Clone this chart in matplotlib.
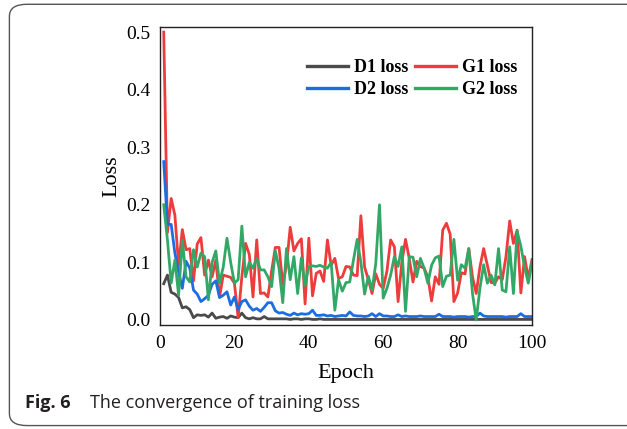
import numpy as np
import matplotlib
matplotlib.use("Agg")
import matplotlib.pyplot as plt
from matplotlib.patches import FancyBboxPatch
from matplotlib.lines import Line2D

# per-epoch training losses of the two GAN pairs
epochs = np.arange(1, 101)

d1_loss = [0.063, 0.078, 0.048, 0.045, 0.039, 0.021, 0.023, 0.018, 0.004, 0.009,
           0.008, 0.009, 0.005, 0.012, 0.003, 0.005, 0.006, 0.003, 0.007, 0.005,
           0.004, 0.012, 0.004, 0.002, 0.004, 0.002, 0.002, 0.006, 0.002, 0.002,
           0.002, 0.002, 0.002, 0.002, 0.001, 0.002, 0.002, 0.001, 0.002, 0.002,
           0.001, 0.001, 0.002, 0.001, 0.001, 0.001, 0.001, 0.001, 0.001, 0.001,
           0.001, 0.001, 0.001, 0.001, 0.001, 0.001, 0.001, 0.001, 0.001, 0.001,
           0.001, 0.001, 0.001, 0.001, 0.001, 0.001, 0.001, 0.001, 0.001, 0.001,
           0.001, 0.001, 0.001, 0.001, 0.001, 0.001, 0.001, 0.001, 0.001, 0.001,
           0.001, 0.001, 0.001, 0.001, 0.001, 0.001, 0.001, 0.001, 0.001, 0.001,
           0.001, 0.001, 0.001, 0.001, 0.001, 0.001, 0.001, 0.001, 0.001, 0.001]

g1_loss = [0.500, 0.152, 0.211, 0.182, 0.095, 0.157, 0.122, 0.124, 0.068, 0.132,
           0.143, 0.078, 0.104, 0.075, 0.104, 0.040, 0.078, 0.076, 0.074, 0.064,
           0.004, 0.075, 0.133, 0.114, 0.040, 0.139, 0.046, 0.047, 0.040, 0.085,
           0.126, 0.126, 0.062, 0.095, 0.161, 0.120, 0.133, 0.141, 0.028, 0.142,
           0.042, 0.081, 0.085, 0.067, 0.139, 0.095, 0.107, 0.072, 0.075, 0.093,
           0.092, 0.078, 0.077, 0.181, 0.092, 0.070, 0.046, 0.080, 0.062, 0.055,
           0.085, 0.139, 0.127, 0.032, 0.100, 0.140, 0.107, 0.066, 0.102, 0.093,
           0.090, 0.075, 0.033, 0.075, 0.062, 0.156, 0.168, 0.149, 0.032, 0.047,
           0.082, 0.080, 0.124, 0.075, 0.046, 0.092, 0.124, 0.095, 0.065, 0.064,
           0.075, 0.070, 0.110, 0.172, 0.133, 0.156, 0.047, 0.110, 0.072, 0.105]

d2_loss = [0.275, 0.166, 0.166, 0.116, 0.083, 0.055, 0.102, 0.090, 0.052, 0.045,
           0.032, 0.037, 0.043, 0.062, 0.068, 0.039, 0.043, 0.049, 0.026, 0.040,
           0.018, 0.032, 0.035, 0.024, 0.017, 0.020, 0.015, 0.022, 0.030, 0.030,
           0.016, 0.012, 0.013, 0.010, 0.008, 0.012, 0.009, 0.011, 0.010, 0.011,
           0.017, 0.008, 0.008, 0.009, 0.007, 0.008, 0.006, 0.007, 0.008, 0.007,
           0.014, 0.008, 0.007, 0.007, 0.006, 0.007, 0.011, 0.006, 0.011, 0.007,
           0.007, 0.006, 0.006, 0.009, 0.006, 0.007, 0.006, 0.006, 0.006, 0.007,
           0.006, 0.006, 0.006, 0.006, 0.010, 0.006, 0.006, 0.006, 0.005, 0.006,
           0.006, 0.006, 0.005, 0.006, 0.006, 0.012, 0.007, 0.006, 0.006, 0.006,
           0.006, 0.006, 0.005, 0.006, 0.006, 0.006, 0.011, 0.006, 0.006, 0.006]

g2_loss = [0.200, 0.139, 0.064, 0.104, 0.043, 0.139, 0.075, 0.066, 0.122, 0.092,
           0.116, 0.110, 0.035, 0.100, 0.120, 0.064, 0.092, 0.142, 0.100, 0.064,
           0.070, 0.163, 0.075, 0.100, 0.090, 0.107, 0.087, 0.087, 0.075, 0.058,
           0.120, 0.090, 0.030, 0.124, 0.070, 0.110, 0.046, 0.108, 0.060, 0.093,
           0.094, 0.093, 0.095, 0.092, 0.090, 0.100, 0.017, 0.070, 0.050, 0.065,
           0.066, 0.104, 0.140, 0.100, 0.045, 0.076, 0.052, 0.098, 0.200, 0.038,
           0.055, 0.078, 0.110, 0.093, 0.127, 0.015, 0.110, 0.109, 0.075, 0.107,
           0.090, 0.064, 0.095, 0.108, 0.111, 0.058, 0.076, 0.078, 0.140, 0.069,
           0.096, 0.090, 0.124, 0.046, 0.000, 0.055, 0.096, 0.064, 0.078, 0.061,
           0.124, 0.052, 0.049, 0.127, 0.046, 0.154, 0.128, 0.092, 0.064, 0.100]

C_D1, C_G1, C_D2, C_G2 = "#4a4a4a", "#ee3b3b", "#1c6ee0", "#33a866"

plt.rcParams["font.family"] = "Liberation Serif"

fig = plt.figure(figsize=(6.27, 4.29), dpi=100)

# rounded figure frame, open on the right
frame = FancyBboxPatch((0.015, 0.008), 1.2, 0.982, transform=fig.transFigure,
                       boxstyle="round,pad=0,rounding_size=0.028",
                       fc="none", ec="#555555", lw=1.0)
fig.patches.append(frame)

ax = fig.add_axes([0.2552, 0.2424, 0.5933, 0.6946])
lw = 2.0
ax.plot(epochs, d1_loss, color=C_D1, lw=lw)
ax.plot(epochs, g1_loss, color=C_G1, lw=lw)
ax.plot(epochs, d2_loss, color=C_D2, lw=lw)
ax.plot(epochs, g2_loss, color=C_G2, lw=lw)

ax.set_xlim(0, 100)
ax.set_ylim(-0.0087, 0.5087)
ax.set_xticks([0, 20, 40, 60, 80, 100])
ax.set_yticks([0.0, 0.1, 0.2, 0.3, 0.4, 0.5])
ax.set_yticklabels(["0.0", "0.1", "0.2", "0.3", "0.4", "0.5"])
ax.tick_params(length=0, labelsize=14, pad=7)
for s in ax.spines.values():
    s.set_linewidth(1.0)
    s.set_color("#222222")

ax.set_xlabel("Epoch", fontsize=16, labelpad=9)
ax.set_ylabel("Loss", fontsize=16, labelpad=3)

handles = [Line2D([], [], color=C_D1, lw=2.4), Line2D([], [], color=C_D2, lw=2.4),
           Line2D([], [], color=C_G1, lw=2.4), Line2D([], [], color=C_G2, lw=2.4)]
labels = ["D1 loss", "D2 loss", "G1 loss", "G2 loss"]
ax.legend(handles, labels, ncol=2, loc="upper left", bbox_to_anchor=(0.395, 0.893),
          frameon=False, prop={"weight": "bold", "size": 13},
          handlelength=2.3, handletextpad=0.3, columnspacing=0.35,
          labelspacing=0.3, borderpad=0, borderaxespad=0)

fig.text(0.04, 0.06, "Fig. 6", fontsize=13, fontweight="bold",
         family="Open Sans", va="center", color="#231f20")
fig.text(0.1435, 0.06, "The convergence of training loss", fontsize=13,
         family="Open Sans", va="center", color="#231f20")

fig.savefig("out.png", dpi=100)
